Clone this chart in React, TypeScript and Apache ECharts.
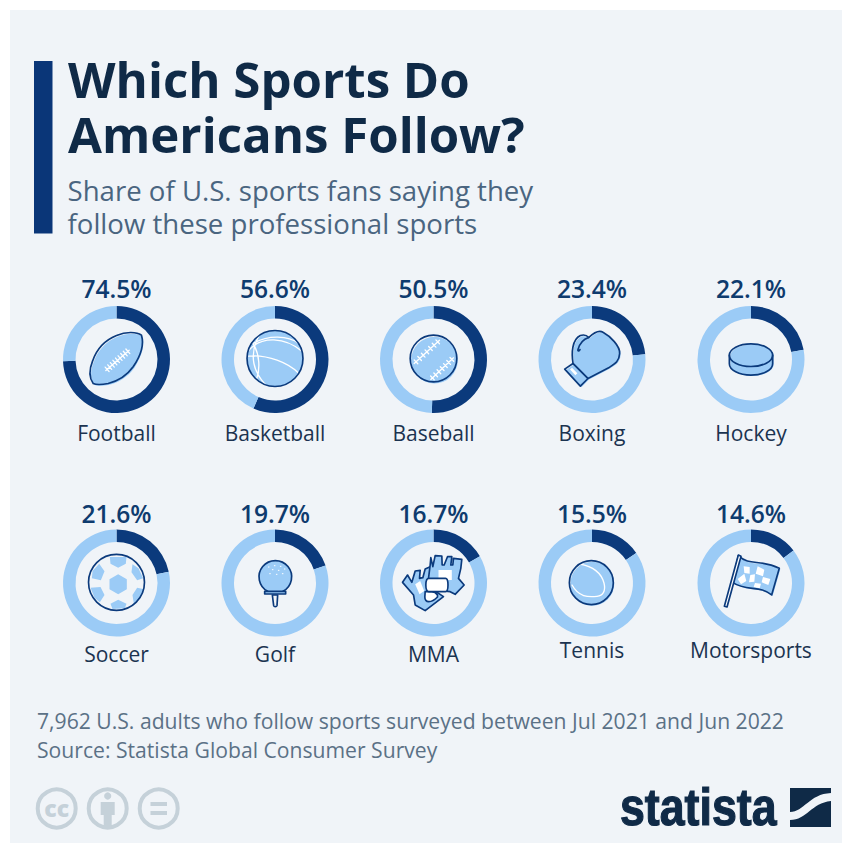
import React, { useEffect, useRef } from "react";
import * as echarts from "echarts";

const sports = ["Football", "Basketball", "Baseball", "Boxing", "Hockey", "Soccer", "Golf", "MMA", "Tennis", "Motorsports"];
const shares = [74.5, 56.6, 50.5, 23.4, 22.1, 21.6, 19.7, 16.7, 15.5, 14.6];
const titleLines = ["Which Sports Do", "Americans Follow?"];
const subtitleLines = ["Share of U.S. sports fans saying they", "follow these professional sports"];
const footerLines = [
  "7,962 U.S. adults who follow sports surveyed between Jul 2021 and Jun 2022",
  "Source: Statista Global Consumer Survey",
];

const columnX = [116.5, 275, 433.5, 592, 751];
const rowY = [359.5, 583];
const nameY = [433, 433, 433, 433, 433, 654, 654, 654, 650, 650];

const NAVY = "#0b3a7c";
const SKY = "#9bcbf6";
const INK = "#0f2a47";
const PANEL = "#f0f4f8";
const FONT = "'Open Sans', sans-serif";

const circ = (x: number, y: number, r: number) =>
  `M${x - r} ${y}A${r} ${r} 0 1 1 ${x + r} ${y}A${r} ${r} 0 1 1 ${x - r} ${y}Z`;
const poly = (...p: number[]) => {
  let s = "";
  for (let i = 0; i < p.length; i += 2) s += `${i ? "L" : "M"}${p[i]} ${p[i + 1]}`;
  return s + "Z";
};
// Seam with short cross stitches, used on the football and the baseball.
const stitches = (x1: number, y1: number, x2: number, y2: number, n: number, len: number) => {
  const dx = x2 - x1, dy = y2 - y1, l = Math.hypot(dx, dy);
  const nx = (-dy / l) * len, ny = (dx / l) * len;
  let s = `M${x1} ${y1}L${x2} ${y2}`;
  for (let i = 0; i < n; i++) {
    const t = (i + 0.5) / n, x = x1 + dx * t, y = y1 + dy * t;
    s += `M${x - nx} ${y - ny}L${x + nx} ${y + ny}`;
  }
  return s;
};

type Layer = { d: string; fill?: string; stroke?: string; lw?: number; dx?: number; dy?: number };
const W = "#ffffff";
const LW = 5;

const footballBody = "M75 -73C82 -50 75 -15 50 22C30 50 0 66 -25 72C-45 76 -62 76 -70 72C-82 55 -82 30 -72 5C-60 -30 -35 -58 0 -72C28 -84 60 -84 75 -73Z";
const gloveBody = "M-57 12C-62 -20 -60 -60 -35 -72C-25 -75 -15 -72 -10 -66C5 -80 20 -90 33 -82C55 -70 85 -40 83 -18C82 5 70 12 50 25L-12 57Z";
const flagBody = "M-38 -82C-3 -49 27 -74 85 -44L62 36C27 6 -13 26 -56 -2Z";
const rearMitt = "M-8 -76L-2 -49L5 -82L25 -81L26 -54L32 -54L42 -79L55 -79L52 -54L58 -54L60 -74L85 -71L82 -44L75 -14L92 6L65 34L50 26L0 21L-15 -14L-10 -54Z";
const frontMitt = "M-93 -2L-78 -24L-65 -2L-55 -36L-40 -38L-42 -14L-32 -16L-25 -42L-10 -49L-10 -14L0 21L30 41L-25 83L-55 66L-60 36Z";

const iconLayers: Layer[][] = [
  [
    { d: footballBody, fill: SKY, dx: 3, dy: 4 },
    { d: footballBody, stroke: NAVY, lw: LW },
    { d: stitches(-32, 33, 38, -28, 9, 9), stroke: W, lw: 4 },
  ],
  [
    { d: circ(0, -3, 84), fill: SKY },
    { d: "M-78 -28C-40 -72 30 -68 82 -24M-50 -68C-80 -10 -62 40 -30 74M-82 -10C-20 -15 40 10 72 42M-66 -48C-20 -75 40 -72 72 -48M-66 -48C-45 -15 -45 30 -55 58", stroke: W, lw: 4 },
    { d: circ(0, -3, 84), stroke: NAVY, lw: LW },
  ],
  [
    { d: circ(3, 2, 70), fill: SKY },
    { d: stitches(-58, 12, 18, -58, 7, 8), stroke: W, lw: 4 },
    { d: stitches(-8, 60, 60, -5, 7, 8), stroke: W, lw: 4 },
    { d: circ(0, -3, 70), stroke: NAVY, lw: LW },
  ],
  [
    { d: gloveBody, fill: SKY, dx: 3, dy: 3 },
    { d: poly(-82, 29, -57, 12, -12, 57, -35, 80), fill: SKY, dx: 3, dy: 3 },
    { d: poly(-66, 30, -60, 25, -44, 41, -50, 47), fill: W },
    { d: gloveBody, stroke: NAVY, lw: LW },
    { d: poly(-82, 29, -57, 12, -12, 57, -35, 80), stroke: NAVY, lw: LW },
    { d: "M-42 -30C-38 -45 -28 -60 -10 -66M-42 -30C-44 -25 -38 -24 -36 -30", stroke: NAVY, lw: LW },
  ],
  [
    { d: "M-65 -13L-65 13A65 34 0 0 0 65 13L65 -13A65 34 0 0 0 -65 -13Z", fill: SKY, dx: 3, dy: 2 },
    { d: "M-65 -13L-65 13A65 34 0 0 0 65 13L65 -13", stroke: NAVY, lw: LW },
    { d: "M-65 -13A65 34 0 1 1 65 -13A65 34 0 1 1 -65 -13Z", stroke: NAVY, lw: LW },
  ],
  [
    {
      d:
        poly(5, -26, 31, -11, 31, 19, 5, 34, -21, 19, -21, -11) +
        poly(-20, -78, 30, -78, 28, -58, 5, -46, -18, -58) +
        poly(-72, -36, -52, -58, -36, -35, -47, -8, -74, -14) +
        poly(48, -56, 66, -44, 80, -14, 62, -8, 45, -32) +
        poly(-78, 14, -48, 12, -36, 36, -50, 58, -66, 44) +
        poly(-18, 62, 5, 50, 30, 62, 25, 76, -12, 78) +
        poly(48, 36, 62, 14, 80, 18, 72, 46, 52, 62),
      fill: SKY,
    },
    { d: circ(0, -2, 84), stroke: NAVY, lw: LW },
  ],
  [
    { d: "M-22 25A49 49 0 1 1 24 25Z", fill: SKY },
    { d: "M-20 -48L-18 -48M-2 -52L0 -52M16 -50L18 -50M-8 -40L-6 -40M10 -38L12 -38M28 -42L30 -42M-16 -28L-14 -28M4 -26L6 -26M22 -28L24 -28", stroke: W, lw: 3 },
    { d: "M-22 25A49 49 0 1 1 24 25", stroke: NAVY, lw: LW },
    { d: poly(-31, 25, 32, 25, 32, 33, -31, 33), fill: SKY, stroke: NAVY, lw: LW },
    { d: "M-8 36L8 36L6 68C5 72 -3 72 -4 68Z", fill: PANEL, stroke: NAVY, lw: LW },
  ],
  [
    { d: frontMitt, fill: SKY, stroke: NAVY, lw: LW },
    { d: poly(-55, 4, -40, -6, -28, 24, -42, 34), fill: W },
    { d: rearMitt, fill: SKY, stroke: NAVY, lw: LW },
    { d: poly(15, -39, 55, -39, 55, -9, 15, -9), fill: W },
    { d: "M-25 26L-5 26C5 26 8 30 12 36L12 42C4 50 -6 56 -14 56C-22 56 -26 50 -26 42Z", fill: W, stroke: NAVY, lw: LW },
    { d: "M-14 -14L36 -14C46 -14 46 26 36 26L-14 26C-26 26 -26 -14 -14 -14Z", fill: W, stroke: NAVY, lw: LW },
  ],
  [
    { d: circ(1, 2, 66), fill: SKY },
    { d: "M-37 -57C0 -50 28 -30 36 0C42 24 33 38 15 40C-12 43 -40 42 -60 6", stroke: W, lw: 4 },
    { d: circ(-2, -1, 66), stroke: NAVY, lw: LW },
  ],
  [
    { d: flagBody, fill: SKY, dx: 3, dy: 3 },
    {
      d:
        poly(-22, -50, -4, -48, -4, -28, -20, -30) +
        poly(20, -50, 40, -40, 36, -20, 14, -28) +
        poly(-40, -12, -20, -28, -14, -6, -30, 4) +
        poly(-2, -24, 12, -26, 10, -4, -6, -2) +
        poly(36, -18, 58, -12, 52, 6, 32, -2) +
        poly(12, 0, 30, 2, 26, 16, 8, 12),
      fill: W,
    },
    { d: flagBody, stroke: NAVY, lw: LW },
    { d: poly(-38, -84, -30, -80, -72, 72, -80, 70), fill: W, stroke: NAVY, lw: LW },
  ],
];

const shapeName = (i: number, j: number) => `sport-icon-${i}-${j}`;
iconLayers.forEach((layers, i) =>
  layers.forEach((l, j) => echarts.graphic.registerShape(shapeName(i, j), echarts.graphic.extendPath(l.d, {})))
);
echarts.graphic.registerShape(
  "logo-swoosh",
  echarts.graphic.extendPath("M0 24C14 24 19 6 41 5L41 13C21 15 17 32 0 32Z", {})
);
echarts.graphic.registerShape(
  "licence-person",
  echarts.graphic.extendPath("M-7 -7L7 -7L7 6L4 6L4 19L-4 19L-4 6L-7 6Z", {})
);

const text = (x: number, y: number, t: string, size: number, weight: number, fill: string, align = "left", extra: any = {}) => ({
  type: "text",
  silent: true,
  style: { x, y, text: t, fontSize: size, fontWeight: weight, fontFamily: FONT, fill, textAlign: align, textVerticalAlign: "middle", ...extra },
});

export default function App() {
  const ref = useRef<HTMLDivElement>(null);
  useEffect(() => {
    document.body.style.margin = "0";
    const chart = echarts.init(ref.current!, undefined, { renderer: "svg" });
    const pos = (i: number) => ({ cx: columnX[i % 5], cy: rowY[i < 5 ? 0 : 1] });

    const series = shares.map((v, i) => ({
      type: "pie",
      silent: true,
      center: [pos(i).cx, pos(i).cy],
      radius: [41, 53.5],
      startAngle: 90,
      clockwise: true,
      label: { show: false },
      labelLine: { show: false },
      data: [
        { name: sports[i], value: v, itemStyle: { color: NAVY } },
        { name: "Other", value: 100 - v, itemStyle: { color: SKY } },
      ],
    }));

    const icons: any[] = [];
    iconLayers.forEach((layers, i) =>
      layers.forEach((l, j) =>
        icons.push({
          type: shapeName(i, j),
          silent: true,
          x: pos(i).cx + (l.dx || 0) / 3,
          y: pos(i).cy + (l.dy || 0) / 3,
          scaleX: 1 / 3,
          scaleY: 1 / 3,
          style: { fill: l.fill || "none", stroke: l.stroke || "none", lineWidth: l.lw || 0, lineJoin: "round", lineCap: "round" },
        })
      )
    );

    const licence = "#c5d1d9";
    const licenceX = [56.7, 107.7, 158.7];
    const badges: any[] = [
      ...licenceX.map((x) => ({
        type: "circle",
        silent: true,
        shape: { cx: x, cy: 808.5, r: 19 },
        style: { fill: "none", stroke: licence, lineWidth: 4 },
      })),
      { ...text(56.7, 807.5, "cc", 23, 800, licence, "center") },
      { type: "circle", silent: true, shape: { cx: 107.7, cy: 796, r: 3.6 }, style: { fill: licence } },
      { type: "licence-person", silent: true, x: 107.7, y: 809, style: { fill: licence } },
      { type: "rect", silent: true, shape: { x: 150.5, y: 802, width: 16.5, height: 4 }, style: { fill: licence } },
      { type: "rect", silent: true, shape: { x: 150.5, y: 811, width: 16.5, height: 4 }, style: { fill: licence } },
    ];

    const logo: any[] = [
      {
        type: "text",
        silent: true,
        x: 620,
        y: 0,
        scaleX: 0.86,
        style: { x: 0, y: 807, text: "statista", fontSize: 52, fontWeight: 700, fontFamily: "'Liberation Sans', sans-serif", fill: "#0f2a47", stroke: "#0f2a47", lineWidth: 1.2, textVerticalAlign: "middle" },
      },
      { type: "rect", silent: true, shape: { x: 790, y: 788, width: 41, height: 39 }, style: { fill: "#0f2a47" } },
      { type: "logo-swoosh", silent: true, x: 790, y: 788, style: { fill: PANEL } },
    ];

    chart.setOption({
      animation: false,
      backgroundColor: "#ffffff",
      series,
      graphic: [
        { type: "rect", silent: true, z: -1, shape: { x: 10, y: 10, width: 832, height: 833 }, style: { fill: PANEL } },
        { type: "rect", silent: true, shape: { x: 34, y: 61, width: 18.5, height: 172.5 }, style: { fill: "#0a3678" } },
        text(68, 106, titleLines.join("\n"), 49.2, 700, INK, "left", { lineHeight: 54.5 }),
        text(67.5, 206, subtitleLines.join("\n"), 27.6, 400, "#4a6580", "left", { lineHeight: 33 }),
        ...shares.map((v, i) => text(pos(i).cx, i < 5 ? 288 : 513, `${v}%`, 24.6, 600, "#0e3b6e", "center")),
        ...sports.map((s, i) => text(pos(i).cx, nameY[i], s, 21, 400, "#1b3350", "center")),
        ...footerLines.map((t, i) => text(37, 720 + i * 29, t, 21.15, 400, "#5b7186")),
        ...icons,
        ...badges,
        ...logo,
      ],
    });
    return () => chart.dispose();
  }, []);
  return <div ref={ref} style={{ width: 842, height: 843 }} />;
}
